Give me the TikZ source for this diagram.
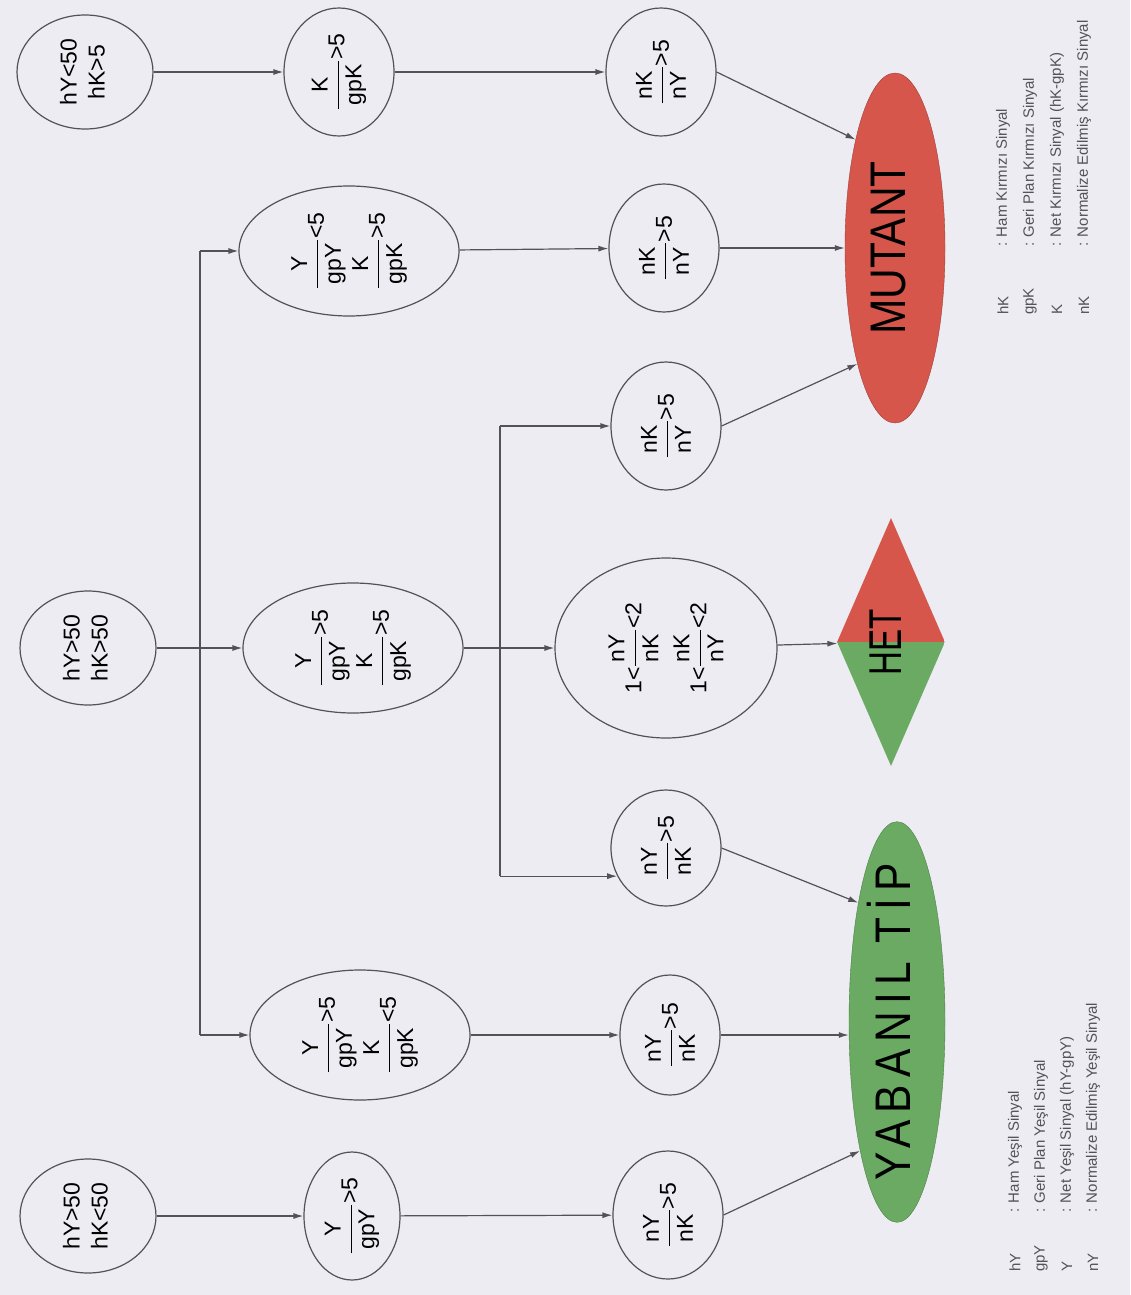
\documentclass[tikz,border=0pt]{standalone}
\usepackage{amsmath}
\usepackage{fontspec}
\setmainfont{Liberation Sans}
\newfontfamily\labelfont[FakeStretch=0.85]{Liberation Sans}
\newfontfamily\hetfont[FakeStretch=0.72]{Liberation Sans}
\usetikzlibrary{shapes.geometric,arrows.meta}

\definecolor{paper}{RGB}{236,236,242}
\definecolor{ink}{RGB}{82,82,88}
\definecolor{mutred}{RGB}{214,86,76}
\definecolor{wtgreen}{RGB}{106,170,98}

% text inside the ovals runs bottom to top
\newcommand{\up}[1]{\rotatebox{90}{\begin{tabular}{@{}c@{}}#1\end{tabular}}}
\newcommand{\fr}[3]{$\dfrac{\text{\,#1\,}}{\text{\,#2\,}}$#3}

\begin{document}
\begin{tikzpicture}[x=1pt,y=-1pt]
\tikzstyle{every node}+=[inner sep=0pt]
\tikzstyle{oval}=[draw=ink, line width=1.2pt, ellipse, font=\fontsize{23}{28}\selectfont]
\tikzstyle{cond}=[oval, minimum width=136, minimum height=114]
\tikzstyle{ratio}=[oval, minimum width=110, minimum height=128]
\tikzstyle{pair}=[oval, minimum width=220, minimum height=130]
\tikzstyle{result}=[ellipse, minimum width=100, minimum height=350, font=\labelfont\fontsize{50}{54}\selectfont]
\tikzstyle{link}=[draw=ink, line width=1.2pt, -{Latex[length=10pt,width=6pt]}]
\tikzstyle{key}=[rotate=90, anchor=west, text=ink, font=\fontsize{15}{18}\selectfont]

\fill[paper] (0,0) rectangle (1130,1295);
\useasboundingbox (0,0) rectangle (1130,1295);

% starting conditions
\node[cond] (c1) at (85,72) {\up{hY<50\\hK>5}};
\node[cond] (c2) at (88,648) {\up{hY>50\\hK>50}};
\node[cond] (c3) at (88,1216) {\up{hY>50\\hK<50}};

% background ratios
\node[ratio] (b1) at (339,72) {\up{\fr{K}{gpK}{>5}}};
\node[pair] (b2) at (349,251) {\up{\fr{Y}{gpY}{<5}\\[20pt]\fr{K}{gpK}{>5}}};
\node[pair] (b3) at (353,648) {\up{\fr{Y}{gpY}{>5}\\[20pt]\fr{K}{gpK}{>5}}};
\node[pair] (b4) at (360,1035) {\up{\fr{Y}{gpY}{>5}\\[20pt]\fr{K}{gpK}{<5}}};
\node[ratio, minimum width=96] (b5) at (352,1216) {\up{\fr{Y}{gpY}{>5}}};

% normalised ratios
\node[ratio] (d1) at (661,72) {\up{\fr{nK}{nY}{>5}}};
\node[ratio] (d2) at (664,248) {\up{\fr{nK}{nY}{>5}}};
\node[ratio] (d3) at (666,426) {\up{\fr{nK}{nY}{>5}}};
\node[pair, minimum width=222, minimum height=180] (d4) at (666,648)
  {\up{1<\fr{nY}{nK}{<2}\\[24pt]1<\fr{nK}{nY}{<2}}};
\node[ratio, minimum height=116] (d5) at (666,848) {\up{\fr{nY}{nK}{>5}}};
\node[ratio, minimum width=100, minimum height=120] (d6) at (670,1035) {\up{\fr{nY}{nK}{>5}}};
\node[ratio] (d7) at (668,1215) {\up{\fr{nY}{nK}{>5}}};

% outcomes
\node[result, fill=mutred, draw=mutred!75!black] (mut) at (895,248) {\up{MUTANT}};
\node[diamond, shape aspect=0.44, minimum width=108, minimum height=248,
  font=\hetfont\fontsize{46}{50}\selectfont,
  path picture={
    \fill[mutred] (path picture bounding box.west) rectangle (path picture bounding box.north east);
    \fill[wtgreen] (path picture bounding box.west) rectangle (path picture bounding box.south east);
  }] (het) at (891,642) {\up{HET}};
\node[result, fill=wtgreen, draw=wtgreen!75!black, inner sep=-17pt, minimum width=96] (yab) at (897,1022)
  {\up{\addfontfeature{LetterSpace=14}YABANIL TİP}};

% connectors
\draw[link] (c1) -- (b1);
\draw[link] (b1) -- (d1);
\draw[link] (d1.east) -- (mut.110);
\draw[link] (b2) -- (d2);
\draw[link] (d2) -- (mut);
\draw[link] (d3.east) -- (mut.252);

\draw[link] (c2) -- (b3);
\coordinate (fork) at (200,648);
\draw[ink, line width=1.2pt] (fork |- b2) -- (fork |- b4);
\draw[link] (fork |- b2) -- (b2);
\draw[link] (fork |- b4) -- (b4);
\draw[link] (b3) -- (d4);
\coordinate (split) at (500,648);
\draw[ink, line width=1.2pt] (split |- d3) -- (d5.210 -| split);
\draw[link] (split |- d3) -- (d3);
\draw[link] (d5.210 -| split) -- (d5.210);
\draw[link] (d4) -- (het);
\draw[link] (b4) -- (d6);
\draw[link] (d5.east) -- (yab.108);
\draw[link] (d6) -- (d6 -| yab.west);

\draw[link] (c3) -- (b5);
\draw[link] (b5) -- (d7);
\draw[link] (d7.east) -- (yab.254);

% legends
\foreach \ab/\txt [count=\i] in {hY/Ham Yeşil Sinyal, gpY/Geri Plan Yeşil Sinyal,
    Y/Net Yeşil Sinyal (hY-gpY), nY/Normalize Edilmiş Yeşil Sinyal} {
  \node[key] (gkey\i) at ({989+26*\i},1272) {\ab};
  \node[key] (gtxt\i) at ({989+26*\i},1213) {: \txt};
}
\foreach \ab/\txt [count=\i] in {hK/Ham Kırmızı Sinyal, gpK/Geri Plan Kırmızı Sinyal,
    K/Net Kırmızı Sinyal (hK-gpK), nK/Normalize Edilmiş Kırmızı Sinyal} {
  \node[key] (rkey\i) at ({976+27*\i},315) {\ab};
  \node[key] (rtxt\i) at ({976+27*\i},247) {: \txt};
}
\end{tikzpicture}
\end{document}
